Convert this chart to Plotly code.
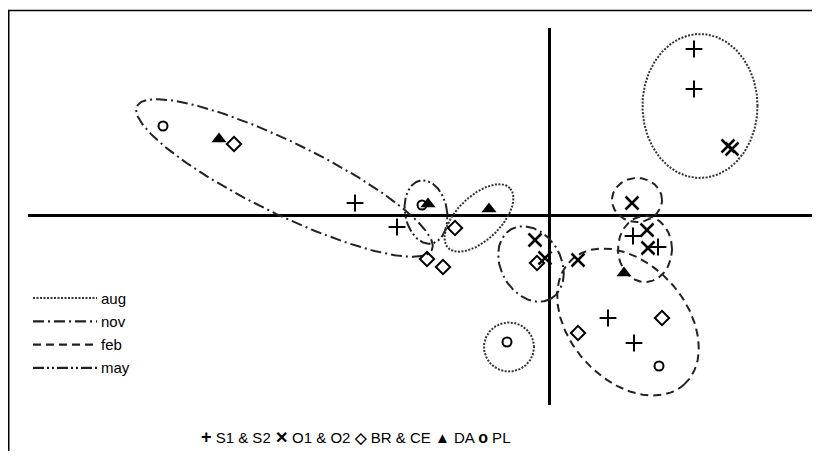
import numpy as np
import plotly.graph_objects as go

INK = "#000000"
OFF = 8                     # page offset of the figure (body margin)
W, H = 820 - 2 * OFF, 459 - 2 * OFF
# plot area in page pixels (axes cross at 549, 215)
L, R, T, B = 28, 812, 28, 405

# --- point scores (axis 1, axis 2) ---
S_X = [1.45, 1.45, -1.94, -1.52, 0.84, 1.09, 0.59, 0.85]
S_Y = [1.66, 1.26, 0.12, -0.12, -0.21, -0.32, -1.03, -1.28]
O_X = [1.79, 1.83, 0.83, 0.98, 0.99, -0.14, -0.04, 0.29]
O_Y = [0.69, 0.66, 0.12, -0.15, -0.33, -0.25, -0.43, -0.45]
BR_X = [-3.15, -0.94, -1.22, -1.06, -0.12, 0.29, 1.13]
BR_Y = [0.71, -0.13, -0.44, -0.52, -0.48, -1.18, -1.03]
DA_X = [-3.30, -1.21, -0.60, 0.75]
DA_Y = [0.76, 0.11, 0.06, -0.58]
PL_X = [-3.86, -1.27, -0.42, 1.10]
PL_Y = [0.89, 0.10, -1.27, -1.51]

# --- grouping ellipses: centre, semi-axes, rotation (deg), month ---
ELL_CX = [1.51, -2.645, -1.23, -0.70, -0.18, 0.88, 0.96, 0.79, -0.40]
ELL_CY = [1.09, 0.37, 0.03, -0.03, -0.49, 0.15, -0.34, -1.07, -1.32]
ELL_A = [0.575, 1.64, 0.32, 0.43, 0.40, 0.25, 0.27, 0.84, 0.25]
ELL_B = [0.72, 0.36, 0.21, 0.22, 0.30, 0.22, 0.33, 0.58, 0.245]
ELL_ROT = [0, -26, 100, 44, -60, 0, 0, -48, 0]
ELL_MONTH = ["aug", "nov", "may", "aug", "nov", "feb", "feb", "feb", "aug"]

MONTHS = ["aug", "nov", "feb", "may"]
DASH = {
    "aug": "2px,1.5px",
    "nov": "11px,4px,2px,4px",
    "feb": "8px,5px",
    "may": "11px,3px,2px,3px,2px,3px",
}
LINE_COL = {"aug": "#333333", "nov": "#222222", "feb": "#222222", "may": "#222222"}

X_RANGE = [-5.21, 2.63]
Y_RANGE = [-1.90, 1.87]


def px_x(p):
    return (p - L) / (R - L)


def px_y(p):
    return 1 - (p - T) / (B - T)


fig = go.Figure()

t = np.linspace(0, 2 * np.pi, 241)
for cx, cy, a, b, rot, m in zip(ELL_CX, ELL_CY, ELL_A, ELL_B, ELL_ROT, ELL_MONTH):
    th = np.radians(rot)
    ex = cx + a * np.cos(t) * np.cos(th) - b * np.sin(t) * np.sin(th)
    ey = cy + a * np.cos(t) * np.sin(th) + b * np.sin(t) * np.cos(th)
    fig.add_scatter(x=ex, y=ey, mode="lines", showlegend=False, hoverinfo="skip",
                    line=dict(color=LINE_COL[m], width=2, dash=DASH[m]))

fig.add_scatter(x=S_X, y=S_Y, mode="markers", name="S1 & S2",
                marker=dict(symbol="cross-thin", size=12, line=dict(color=INK, width=2)))
fig.add_scatter(x=O_X, y=O_Y, mode="markers", name="O1 & O2",
                marker=dict(symbol="x-thin", size=13, line=dict(color=INK, width=2.5)))
fig.add_scatter(x=BR_X, y=BR_Y, mode="markers", name="BR & CE",
                marker=dict(symbol="diamond-open", size=11, color=INK, line=dict(width=2)))
fig.add_scatter(x=DA_X, y=DA_Y, mode="markers", name="DA",
                marker=dict(symbol="triangle-up", size=13, color=INK))
fig.add_scatter(x=PL_X, y=PL_Y, mode="markers", name="PL",
                marker=dict(symbol="circle-open", size=9, color=INK, line=dict(width=2)))

# frame: one open path, left edge up then top edge across
fx0, fx1 = px_x(8.75), px_x(813)
fy0, fy1 = px_y(452), px_y(10.5)
shapes = [dict(type="path", xref="paper", yref="paper",
               path=f"M{fx0},{fy0} L{fx0},{fy1} L{fx1},{fy1}",
               fillcolor="rgba(0,0,0,0)", line=dict(color=INK, width=1.5))]
annotations = []
for i, m in enumerate(MONTHS):
    yy = px_y(298 + i * 23.3)
    shapes.append(dict(type="line", xref="paper", yref="paper",
                       x0=px_x(33), x1=px_x(97), y0=yy, y1=yy,
                       line=dict(color=LINE_COL[m], width=2.2, dash=DASH[m])))
    annotations.append(dict(xref="paper", yref="paper", x=px_x(99), y=yy,
                            xanchor="left", yanchor="middle", showarrow=False,
                            text=m, font=dict(size=15, color=INK)))


def sym(ch, size=18):
    return f"<span style='font-size:{size}px'><b>{ch}</b></span>"


annotations.append(dict(
    xref="paper", yref="paper", x=px_x(355), y=px_y(437),
    xanchor="center", yanchor="middle", showarrow=False,
    font=dict(size=15, color=INK),
    text=(f"{sym('+')} S1 &amp; S2 {sym('✕', 16)} O1 &amp; O2 {sym('◇', 15)} "
          f"BR &amp; CE {sym('▲', 15)} DA {sym('o', 16)} PL")))

axis = dict(showgrid=False, showticklabels=False, ticks="", showline=False,
            zeroline=True, zerolinecolor=INK, zerolinewidth=3)
fig.update_layout(
    width=W, height=H, template="none",
    paper_bgcolor="white", plot_bgcolor="white",
    margin=dict(l=L - OFF, r=W + OFF - R, t=T - OFF, b=H + OFF - B),
    font=dict(family="Liberation Sans, Arial, sans-serif", size=15, color=INK),
    showlegend=False,
    xaxis=dict(range=X_RANGE, **axis),
    yaxis=dict(range=Y_RANGE, **axis),
    shapes=shapes, annotations=annotations,
)

fig.write_html("out.html")
